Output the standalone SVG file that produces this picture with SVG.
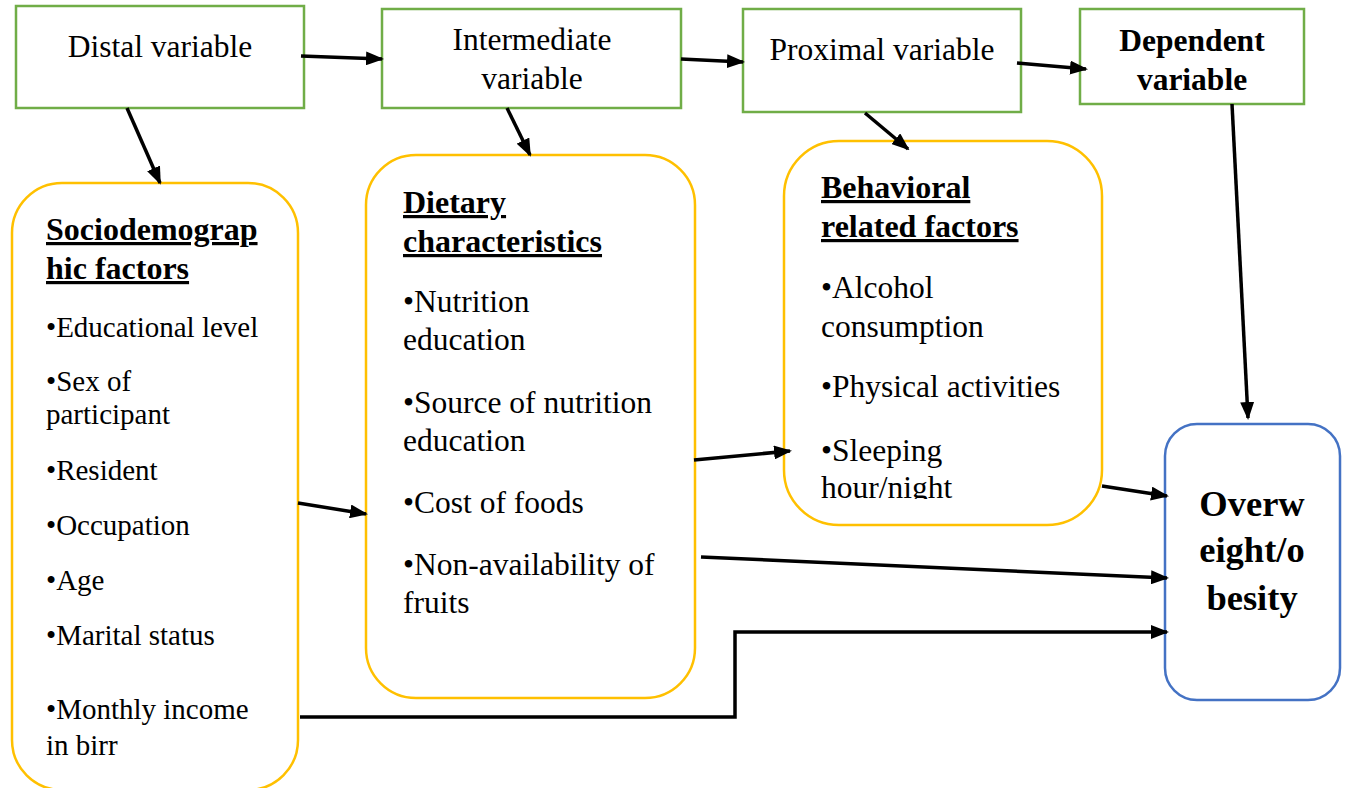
<svg xmlns="http://www.w3.org/2000/svg" width="1347" height="788" viewBox="0 0 1347 788">
<style>
.g{fill:#fff;stroke:#70AD47;stroke-width:2.5}
.y{fill:#fff;stroke:#FFC000;stroke-width:2.5}
.b{fill:#fff;stroke:#4472C4;stroke-width:2.5}
text{font-family:"Liberation Serif","Times New Roman",serif;fill:#000}
.t{font-size:31.5px}
.tb{font-size:31.5px;font-weight:bold}
.h{font-size:32px;font-weight:bold;text-decoration:underline}
.s{font-size:29px}
.d{font-size:31.5px}
.o{font-size:36.5px;font-weight:bold}
.c{fill:none;stroke:#000;stroke-width:3.5;marker-end:url(#ah)}
</style>
<defs>
<marker id="ah" markerWidth="18" markerHeight="14" refX="16" refY="7" orient="auto" markerUnits="userSpaceOnUse">
<path d="M0,0 L18,7 L0,14 Z" fill="#000"/>
</marker>
<clipPath id="clipB"><rect x="780" y="140" width="330" height="359"/></clipPath>
</defs>
<rect width="1347" height="788" fill="#fff"/>

<g id="distal">
<rect class="g" x="16" y="6" width="288" height="102"/>
<text class="t" x="160" y="57" text-anchor="middle">Distal variable</text>
</g>
<g id="intermediate">
<rect class="g" x="382" y="9" width="299" height="99"/>
<text class="t" x="532" y="50" text-anchor="middle">Intermediate</text>
<text class="t" x="532" y="89" text-anchor="middle">variable</text>
</g>
<g id="proximal">
<rect class="g" x="743" y="9" width="278" height="103"/>
<text class="t" x="882" y="60" text-anchor="middle">Proximal variable</text>
</g>
<g id="dependent">
<rect class="g" x="1080" y="9" width="224" height="95"/>
<text class="tb" x="1192" y="51" text-anchor="middle">Dependent</text>
<text class="tb" x="1192" y="90" text-anchor="middle">variable</text>
</g>

<g id="socio">
<rect class="y" x="12" y="183" width="286" height="607" rx="50" ry="50"/>
<text class="h" x="46" y="240">Sociodemograp</text>
<text class="h" x="46" y="279">hic factors</text>
<text class="s" x="46" y="337">•Educational level</text>
<text class="s" x="46" y="391">•Sex of</text>
<text class="s" x="46" y="424">participant</text>
<text class="s" x="46" y="480">•Resident</text>
<text class="s" x="46" y="535">•Occupation</text>
<text class="s" x="46" y="590">•Age</text>
<text class="s" x="46" y="645">•Marital status</text>
<text class="s" x="46" y="719">•Monthly income</text>
<text class="s" x="46" y="755">in birr</text>
</g>

<g id="dietary">
<rect class="y" x="366" y="155" width="329" height="543" rx="50" ry="50"/>
<text class="h" x="403" y="213">Dietary</text>
<text class="h" x="403" y="252">characteristics</text>
<text class="d" x="403" y="312">•Nutrition</text>
<text class="d" x="403" y="350">education</text>
<text class="d" x="403" y="413">•Source of nutrition</text>
<text class="d" x="403" y="451">education</text>
<text class="d" x="403" y="513">•Cost of foods</text>
<text class="d" x="403" y="575">•Non-availability of</text>
<text class="d" x="403" y="613">fruits</text>
</g>

<g id="behavioral">
<rect class="y" x="784" y="141" width="318" height="384" rx="55" ry="55"/>
<text class="h" x="821" y="198">Behavioral</text>
<text class="h" x="821" y="237">related factors</text>
<text class="d" x="821" y="298">•Alcohol</text>
<text class="d" x="821" y="337">consumption</text>
<text class="d" x="821" y="397">•Physical activities</text>
<text class="d" x="821" y="461">•Sleeping</text>
<text class="d" x="821" y="498" clip-path="url(#clipB)">hour/night</text>
</g>

<g id="overweight">
<rect class="b" x="1165" y="424" width="175" height="276" rx="32" ry="32"/>
<text class="o" x="1252" y="516" text-anchor="middle">Overw</text>
<text class="o" x="1252" y="562" text-anchor="middle">eight/o</text>
<text class="o" x="1252" y="610" text-anchor="middle">besity</text>
</g>

<g id="connectors">
<line class="c" x1="301" y1="56" x2="382" y2="59"/>
<line class="c" x1="681" y1="59" x2="743" y2="62"/>
<line class="c" x1="1017" y1="63" x2="1086" y2="69"/>
<line class="c" x1="127" y1="108" x2="160" y2="183"/>
<line class="c" x1="507" y1="108" x2="530" y2="155"/>
<line class="c" x1="865" y1="113" x2="908" y2="149"/>
<line class="c" x1="1232" y1="104" x2="1248" y2="418"/>
<line class="c" x1="298" y1="503" x2="366" y2="514"/>
<line class="c" x1="694" y1="460" x2="790" y2="451"/>
<line class="c" x1="1102" y1="486" x2="1167" y2="496"/>
<line class="c" x1="701" y1="557" x2="1167" y2="578"/>
<polyline class="c" points="300,717 735,717 735,632 1167,632"/>
</g>
</svg>
